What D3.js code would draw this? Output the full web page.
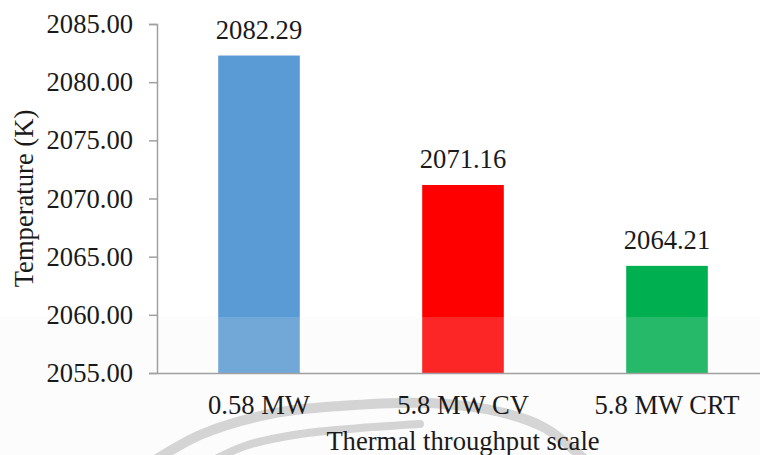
<!DOCTYPE html>
<html>
<head>
<meta charset="utf-8">
<script src="https://cdn.jsdelivr.net/npm/d3@7"></script>
<style>
  html, body { margin: 0; padding: 0; background: #ffffff; }
  svg { display: block; }
</style>
</head>
<body>
<svg id="chart" width="760" height="455"></svg>
<script>
// Peak flame temperature by thermal throughput scale
const categories = ["0.58 MW", "5.8 MW CV", "5.8 MW CRT"];
const temperatures = [2082.29, 2071.16, 2064.21];
const barColors = ["#5B9BD5", "#FF0000", "#00B050"];
const yTicks = [2055, 2060, 2065, 2070, 2075, 2080, 2085];
const yDomain = [2055, 2085];

const width = 760, height = 455;
const margin = { top: 24, right: -9, bottom: 82, left: 157 };
const FONT = '"Liberation Serif", "Times New Roman", Tinos, serif';
const INK = "#1a1a1a";
const SIZE = 26.6;
const svg = d3.select("#chart");

const x = d3.scaleBand()
  .domain(categories)
  .range([margin.left, width - margin.right])
  .paddingInner(0.6)
  .paddingOuter(0.3);

const y = d3.scaleLinear()
  .domain(yDomain)
  .range([height - margin.bottom, margin.top]);

const fmt = d3.format(".2f");

function serif(sel, size) {
  sel.style("font-family", FONT).style("font-size", size + "px").attr("fill", INK);
}

// bars
svg.append("g")
  .selectAll("rect")
  .data(temperatures)
  .join("rect")
  .attr("x", (d, i) => x(categories[i]))
  .attr("width", x.bandwidth())
  .attr("y", d => y(d))
  .attr("height", d => y(yDomain[0]) - y(d))
  .attr("fill", (d, i) => barColors[i]);

// faint watermark: light wash over the lower band and two grey swooshes
svg.append("rect")
  .attr("x", 0).attr("y", 317)
  .attr("width", width).attr("height", height - 317)
  .attr("fill", "#eeeeee").attr("opacity", 0.16);

const swoosh = d3.line().curve(d3.curveCatmullRom);
const outerArc = [[140, 470], [200, 435], [270, 414], [340, 406], [430, 403], [500, 412], [545, 428], [585, 460]];
const innerArc = [[195, 470], [245, 446], [300, 434], [360, 428], [420, 424]];
svg.append("g")
  .attr("fill", "none")
  .attr("stroke", "#c4c4c4")
  .attr("stroke-linecap", "round")
  .attr("opacity", 0.7)
  .selectAll("path")
  .data([outerArc, innerArc])
  .join("path")
  .attr("stroke-width", (d, i) => i === 0 ? 10 : 8)
  .attr("d", swoosh);

// value labels
svg.append("g")
  .selectAll("text")
  .data(temperatures)
  .join("text")
  .attr("x", (d, i) => x(categories[i]) + x.bandwidth() / 2)
  .attr("y", d => y(d) - 17)
  .attr("text-anchor", "middle")
  .text(d => fmt(d))
  .call(serif, SIZE);

// y axis
const yAxis = svg.append("g")
  .attr("transform", `translate(${margin.left},0)`)
  .call(d3.axisLeft(y).tickValues(yTicks).tickFormat(fmt).tickSize(8).tickPadding(16));
yAxis.select(".domain").attr("stroke", "#a0a0a0").attr("stroke-width", 1.5);
yAxis.selectAll(".tick line").attr("stroke", "#a0a0a0").attr("stroke-width", 1.5);
yAxis.selectAll(".tick text").call(serif, SIZE);

// x axis
const xAxis = svg.append("g")
  .attr("transform", `translate(0,${y(yDomain[0])})`)
  .call(d3.axisBottom(x).tickSize(0).tickPadding(22));
xAxis.select(".domain").attr("stroke", "#a0a0a0").attr("stroke-width", 1.5);
xAxis.selectAll(".tick text").call(serif, SIZE);

// axis titles
svg.append("text")
  .attr("x", (x.range()[0] + x.range()[1]) / 2)
  .attr("y", 450)
  .attr("text-anchor", "middle")
  .text("Thermal throughput scale")
  .call(serif, SIZE);

svg.append("text")
  .attr("transform", `translate(33,${(y.range()[0] + y.range()[1]) / 2}) rotate(-90)`)
  .attr("text-anchor", "middle")
  .text("Temperature (K)")
  .call(serif, SIZE);
</script>
</body>
</html>
